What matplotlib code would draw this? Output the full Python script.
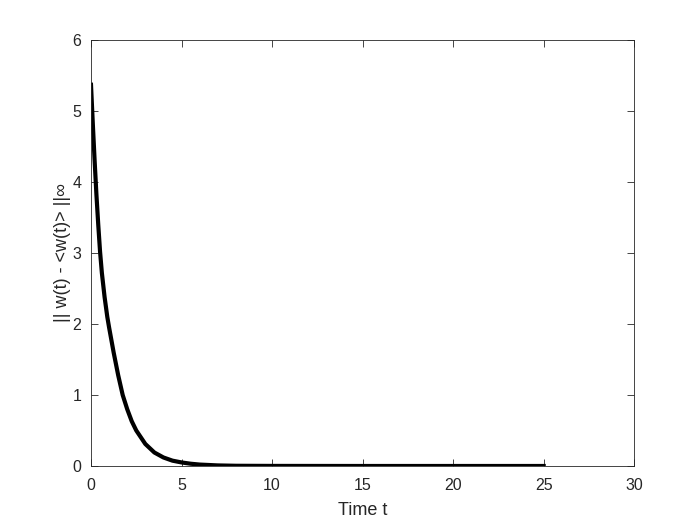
import matplotlib
matplotlib.use("Agg")
import matplotlib.pyplot as plt

# valores
t = [0, 0.1, 0.2, 0.3, 0.4, 0.5, 0.6, 0.75, 0.9, 1.0, 1.25, 1.5, 1.75,
     2.0, 2.25, 2.5, 3.0, 3.5, 4.0, 4.5, 5.0, 5.5, 6.0, 7.0, 8.0, 10.0,
     15.0, 20.0, 25.0]
err = [5.37, 4.82, 4.3, 3.82, 3.4, 3.02, 2.72, 2.38, 2.1, 1.95, 1.6, 1.28,
       1.0, 0.8, 0.63, 0.5, 0.31, 0.19, 0.12, 0.075, 0.05, 0.032, 0.02,
       0.008, 0.003, 0.001, 0.0, 0.0, 0.0]

plt.rcParams['font.family'] = ['Liberation Sans', 'DejaVu Sans']
gris = '#262626'

fig = plt.figure(figsize=(7, 5.25), dpi=100)
ax = fig.add_axes([0.13, 0.1124, 0.776, 0.8114])

ax.plot(t, err, color='black', linewidth=3)

ax.set_xlim(0, 30)
ax.set_ylim(0, 6)
ax.set_xticks([0, 5, 10, 15, 20, 25, 30])
ax.set_yticks([0, 1, 2, 3, 4, 5, 6])
ax.tick_params(direction='in', top=True, right=True, length=5, width=0.6,
               labelsize=11.5, colors=gris)
ax.tick_params(axis='x', pad=9)
ax.tick_params(axis='y', pad=7)
for s in ax.spines.values():
    s.set_color(gris)
    s.set_linewidth(0.6)

ax.set_xlabel('Time t', fontsize=13, color=gris, labelpad=6)
ax.set_ylabel('|| w(t) - <w(t)> ||∞', fontsize=13, color=gris, labelpad=1)

fig.savefig('out.png', dpi=100, facecolor='white')
